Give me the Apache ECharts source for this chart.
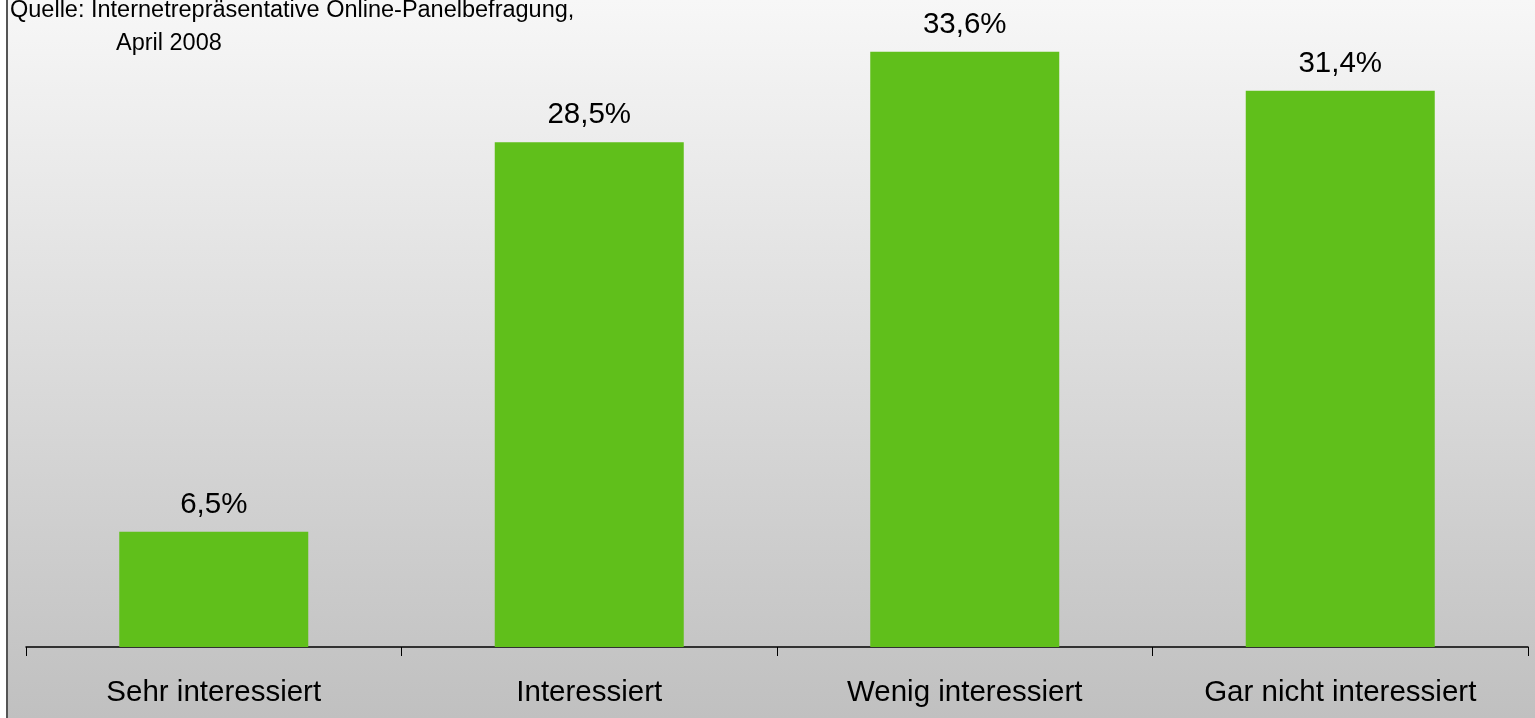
<!DOCTYPE html>
<html><head><meta charset="utf-8">
<script src="https://cdn.jsdelivr.net/npm/echarts@6/dist/echarts.min.js"></script>
<style>html,body{margin:0;padding:0;background:#fff}#c{width:1535px;height:718px}</style>
</head><body><div id="c"></div>
<script>
const categories = ['Sehr interessiert', 'Interessiert', 'Wenig interessiert', 'Gar nicht interessiert'];
const values = [6.5, 28.5, 33.6, 31.4];
const sourceLines = ['Quelle: Internetrepräsentative Online-Panelbefragung,', 'April 2008'];

const FONT = '"Liberation Sans", Arial, sans-serif';
const chart = echarts.init(document.getElementById('c'));
chart.setOption({
  animation: false,
  backgroundColor: '#ffffff',
  graphic: [
    { type: 'rect', z: -10, silent: true, shape: { x: 7, y: 0, width: 1528, height: 718 },
      style: { fill: new echarts.graphic.LinearGradient(0, 0, 0, 1, [
        { offset: 0, color: '#f7f7f7' }, { offset: 1, color: '#c0c0c0' }]) } },
    { type: 'line', z: 10, silent: true, shape: { x1: 7, y1: 0, x2: 7, y2: 718 },
      style: { stroke: '#555', lineWidth: 2 } },
    { type: 'text', x: 10, y: 11, style: { text: sourceLines[0], font: '23.5px ' + FONT, fill: '#000', verticalAlign: 'middle' } },
    { type: 'text', x: 116, y: 44, style: { text: sourceLines[1], font: '23.5px ' + FONT, fill: '#000', verticalAlign: 'middle' } }
  ],
  grid: { left: 26, right: 7, top: 27, bottom: 71, containLabel: false },
  xAxis: {
    type: 'category', data: categories,
    axisLine: { lineStyle: { color: '#000', width: 1.5 } },
    axisTick: { show: true, length: 9, lineStyle: { color: '#000' } },
    axisLabel: { color: '#000', fontSize: 29.5, fontFamily: FONT, margin: 31 }
  },
  yAxis: { type: 'value', min: 0, max: 35, show: false, splitLine: { show: false } },
  series: [{
    type: 'bar', data: values, barWidth: 189,
    itemStyle: { color: '#60bf1b' },
    label: { show: true, position: 'top', distance: 12, color: '#000', fontSize: 29.5,
      fontFamily: FONT,
      formatter: p => p.value.toFixed(1).replace('.', ',') + '%' }
  }]
});
</script></body></html>
